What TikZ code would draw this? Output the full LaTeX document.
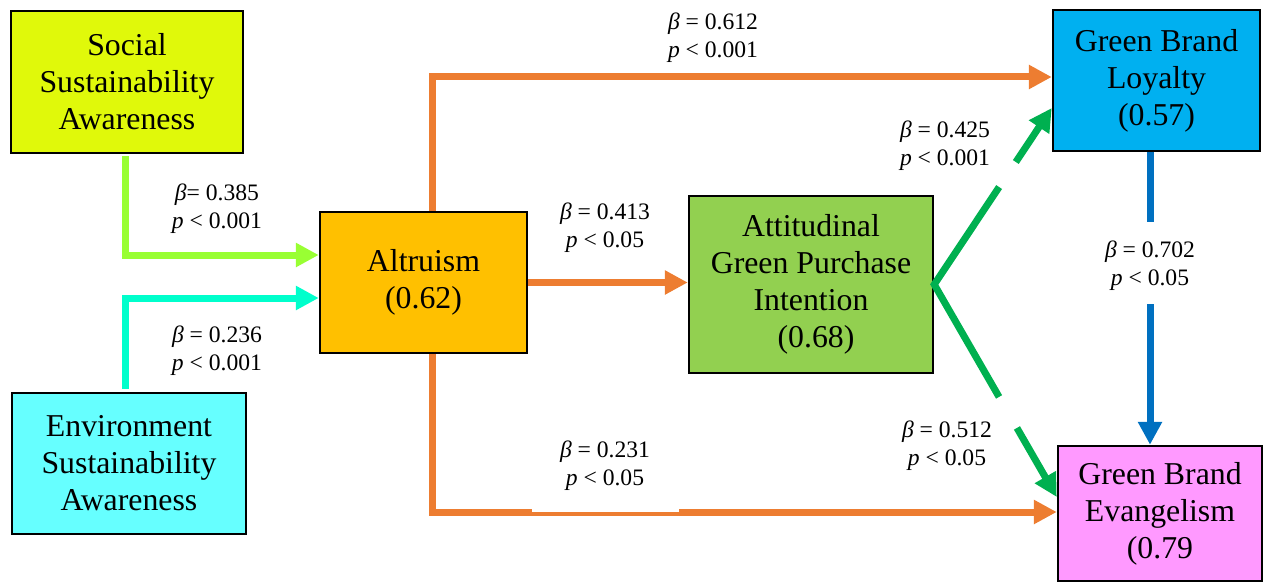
\documentclass[tikz,border=0pt]{standalone}
\usepackage{fontspec}
\setmainfont{Liberation Serif}
\usetikzlibrary{arrows.meta,calc}

\definecolor{socFill}{HTML}{E0F90A}
\definecolor{envFill}{HTML}{66FFFF}
\definecolor{altFill}{HTML}{FFC000}
\definecolor{attFill}{HTML}{92D050}
\definecolor{loyFill}{HTML}{00B0F0}
\definecolor{evanFill}{HTML}{FF99FF}
\definecolor{socLine}{HTML}{99FF33}
\definecolor{envLine}{HTML}{00FFCC}
\definecolor{orngLine}{HTML}{ED7D31}
\definecolor{grnLine}{HTML}{00B050}
\definecolor{bluLine}{HTML}{0070C0}

\begin{document}
\begin{tikzpicture}[x=1pt,y=-1pt,
  box/.style={draw=black, line width=2.5pt, rectangle, align=center,
    font=\fontsize{31.8}{37}\selectfont, inner sep=0pt},
  lab/.style={align=center, font=\fontsize{23.6}{28}\selectfont, inner sep=0pt},
  seg/.style={line width=7pt},
  conn/.style={line width=7pt, -{Triangle[length=23pt,width=23pt]}}]

\useasboundingbox (0,0) rectangle (1265,583);

% constructs
\node[box, fill=socFill, minimum width=232pt, minimum height=142pt] (soc) at (127,82)
  {Social\\Sustainability\\Awareness};
\node[box, fill=envFill, minimum width=234pt, minimum height=141pt] (env) at (129,463.5)
  {Environment\\Sustainability\\Awareness};
\node[box, fill=altFill, minimum width=207pt, minimum height=141pt] (altr) at (423.5,282.5)
  {Altruism\\(0.62)};
\node[box, fill=attFill, minimum width=244pt, minimum height=177pt] (att) at (811,284.5)
  {Attitudinal\\Green Purchase\\Intention\\\hspace*{10pt}(0.68)};
\node[box, fill=loyFill, minimum width=207pt, minimum height=141pt] (loy) at (1156.5,80.5)
  {Green Brand\\Loyalty\\(0.57)};
\node[box, fill=evanFill, minimum width=204pt, minimum height=135pt] (evan) at (1160,513.5)
  {Green Brand\\Evangelism\\(0.79};

% awareness paths into altruism
\draw[conn, socLine] ([xshift=-2pt,yshift=-2pt]soc.south) |- ([yshift=27.5pt]altr.west);
\draw[conn, envLine] ([xshift=-4pt,yshift=3pt]env.north) |- ([yshift=-15.5pt]altr.west);

% paths out of altruism
\draw[conn, orngLine] ([xshift=8.5pt]altr.north) |- ([yshift=3.5pt]loy.west);
\draw[conn, orngLine] (altr.east) -- (altr.east -| att.west);
\draw[conn, orngLine] ([xshift=8.5pt]altr.south) |- ([yshift=1.5pt]evan.west);

% paths out of purchase intention (broken around their labels)
\coordinate (loyIn) at ([yshift=-27.5pt]loy.west);
\coordinate (evanIn) at ([yshift=16.5pt]evan.west);
\draw[seg, grnLine] ($(att.east)!0.552!(loyIn)$) -- (att.east) -- ($(att.east)!0.529!(evanIn)$);
\draw[conn, grnLine] ($(att.east)!0.694!(loyIn)$) -- (loyIn);
\draw[conn, grnLine] ($(att.east)!0.675!(evanIn)$) -- (evanIn);

% loyalty to evangelism
\coordinate (bTop) at ([xshift=-6.5pt]loy.south);
\coordinate (bBot) at (bTop |- evan.north);
\draw[seg, bluLine] (bTop) -- ($(bTop)!0.24!(bBot)$);
\draw[conn, bluLine] ($(bTop)!0.52!(bBot)$) -- (bBot);

% path coefficients
\node[lab] (l612) at (713,38) {{\itshape β} = 0.612\\{\itshape p} < 0.001};
\node[lab] (l385) at (217,209) {{\itshape β}= 0.385\\{\itshape p} < 0.001};
\node[lab] (l236) at (217,350.5) {{\itshape β} = 0.236\\{\itshape p} < 0.001};
\node[lab] (l413) at (605,228) {{\itshape β} = 0.413\\{\itshape p} < 0.05};
\node[lab] (l425) at (945,146) {{\itshape β} = 0.425\\{\itshape p} < 0.001};
\node[lab] (l702) at (1150,266) {{\itshape β} = 0.702\\{\itshape p} < 0.05};
\node[lab] (l512) at (947,445.5) {{\itshape β} = 0.512\\{\itshape p} < 0.05};
\node[lab, fill=white, minimum width=147pt, minimum height=92pt] (l231) at (605,466)
  {{\itshape β} = 0.231\\{\itshape p} < 0.05};

\end{tikzpicture}
\end{document}
